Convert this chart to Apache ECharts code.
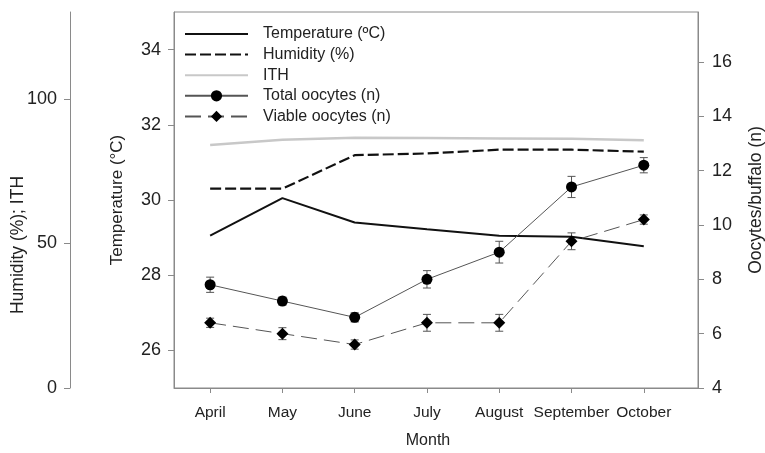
<!DOCTYPE html>
<html><head><meta charset="utf-8">
<script src="https://cdn.jsdelivr.net/npm/echarts@6/dist/echarts.min.js"></script>
<style>html,body{margin:0;padding:0;background:#fff}#c{width:765px;height:453px}</style>
</head><body><div id="c"></div>
<script>
const months = ['April', 'May', 'June', 'July', 'August', 'September', 'October'];
const temperature = [29.05, 30.05, 29.4, 29.22, 29.05, 29.02, 28.77];
const humidity = [68.9, 68.9, 80.5, 81.1, 82.4, 82.4, 81.7];
const ith = [84.0, 85.8, 86.5, 86.4, 86.3, 86.2, 85.7];
const totalOocytes = [7.8, 7.2, 6.6, 8.0, 9.0, 11.4, 12.2];
const totalErr = [0.28, 0.15, 0.17, 0.32, 0.40, 0.39, 0.28];
const viableOocytes = [6.4, 6.0, 5.6, 6.4, 6.4, 9.4, 10.2];
const viableErr = [0.17, 0.22, 0.17, 0.31, 0.31, 0.31, 0.17];
const monthTicks = [0, 1, 2, 3, 4, 5, 6];
const tempTicks = [26, 28, 30, 32, 34];
const humTicks = [0, 50, 100];
const oocyteTicks = [4, 6, 8, 10, 12, 14, 16];

const FONT = 'Liberation Sans, Arial, sans-serif';
const TXT = '#222';
const AX = '#8a8a8a';

const pairs = arr => arr.map((v, i) => [i, v]);
const errPairs = (vals, errs) => vals.map((v, i) => [i, v - errs[i], v + errs[i]]);

function errRender(params, api) {
  const x = api.value(0);
  const lo = api.coord([x, api.value(1)]);
  const hi = api.coord([x, api.value(2)]);
  const w = 4;
  const st = { stroke: '#555', lineWidth: 1 };
  return {
    type: 'group',
    children: [
      { type: 'line', shape: { x1: lo[0], y1: lo[1], x2: hi[0], y2: hi[1] }, style: st },
      { type: 'line', shape: { x1: lo[0] - w, y1: lo[1], x2: lo[0] + w, y2: lo[1] }, style: st },
      { type: 'line', shape: { x1: hi[0] - w, y1: hi[1], x2: hi[0] + w, y2: hi[1] }, style: st }
    ]
  };
}

const noSym = { color: 'rgba(0,0,0,0)', borderWidth: 0, opacity: 0 };

const chart = echarts.init(document.getElementById('c'), null, { renderer: 'canvas' });
chart.setOption({
  animation: false,
  textStyle: { fontFamily: FONT, color: TXT },
  grid: { left: 174, right: 67, top: 12, bottom: 65, outerBoundsMode: 'none', containLabel: false, show: true, borderColor: AX, borderWidth: 1, backgroundColor: 'transparent' },
  legend: {
    orient: 'vertical', left: 184, top: 26, padding: 0, itemWidth: 63, itemHeight: 14, itemGap: 4.6,
    textStyle: { fontFamily: FONT, fontSize: 16, color: TXT, padding: [0, 0, 0, 10] },
    data: [
      { name: 'Temperature (ºC)', itemStyle: noSym },
      { name: 'Humidity (%)', itemStyle: noSym },
      { name: 'ITH', itemStyle: noSym },
      'Total oocytes (n)',
      'Viable oocytes (n)'
    ]
  },
  xAxis: {
    type: 'value', min: -0.5, max: 6.75,
    name: 'Month', nameLocation: 'middle', nameGap: 45, nameMoveOverlap: false,
    nameTextStyle: { fontFamily: FONT, fontSize: 16, color: TXT, padding: [0, 16, 0, 0] },
    axisLine: { show: true, onZero: false, lineStyle: { color: AX } },
    axisTick: { show: true, length: 5, lineStyle: { color: AX }, customValues: monthTicks },
    axisLabel: { fontFamily: FONT, fontSize: 15.5, color: TXT, margin: 17, customValues: monthTicks, formatter: v => months[v] || '' },
    splitLine: { show: false }
  },
  yAxis: [
    {
      type: 'value', position: 'left', min: 25, max: 35,
      name: 'Temperature (°C)', nameLocation: 'middle', nameGap: 48, nameRotate: 90, nameMoveOverlap: false,
      nameTextStyle: { fontFamily: FONT, fontSize: 17, color: TXT },
      axisLine: { show: true, onZero: false, lineStyle: { color: AX } },
      axisTick: { show: true, length: 6, lineStyle: { color: AX }, customValues: tempTicks },
      axisLabel: { fontFamily: FONT, fontSize: 18, color: TXT, margin: 13, customValues: tempTicks },
      splitLine: { show: false }
    },
    {
      type: 'value', position: 'left', offset: 104, min: 0, max: 130,
      name: 'Humidity (%); ITH', nameLocation: 'middle', nameGap: 43, nameRotate: 90, nameMoveOverlap: false,
      nameTextStyle: { fontFamily: FONT, fontSize: 17.5, color: TXT, padding: [0, 90, 0, 0] },
      axisLine: { show: true, onZero: false, lineStyle: { color: AX } },
      axisTick: { show: true, length: 6, lineStyle: { color: AX }, customValues: humTicks },
      axisLabel: { fontFamily: FONT, fontSize: 18, color: TXT, margin: 13, customValues: humTicks },
      splitLine: { show: false }
    },
    {
      type: 'value', position: 'right', min: 4, max: 17.84,
      name: 'Oocytes/buffalo (n)', nameLocation: 'middle', nameGap: 49, nameRotate: 90, nameMoveOverlap: false,
      nameTextStyle: { fontFamily: FONT, fontSize: 17.5, color: TXT },
      axisLine: { show: true, onZero: false, lineStyle: { color: AX } },
      axisTick: { show: true, length: 6, lineStyle: { color: AX }, customValues: oocyteTicks },
      axisLabel: { fontFamily: FONT, fontSize: 18, color: TXT, margin: 14, customValues: oocyteTicks },
      splitLine: { show: false }
    }
  ],
  series: [
    {
      name: 'Temperature (ºC)', type: 'line', yAxisIndex: 0, data: pairs(temperature),
      symbol: 'none', lineStyle: { color: '#111', width: 2 }, itemStyle: { color: '#111' }, z: 3
    },
    {
      name: 'Humidity (%)', type: 'line', yAxisIndex: 1, data: pairs(humidity),
      symbol: 'none', lineStyle: { color: '#111', width: 2.2, type: [11, 4] }, itemStyle: { color: '#111' }, z: 3
    },
    {
      name: 'ITH', type: 'line', yAxisIndex: 1, data: pairs(ith),
      symbol: 'none', lineStyle: { color: '#c8c8c8', width: 2.5 }, itemStyle: { color: '#c8c8c8' }, z: 2
    },
    {
      type: 'custom', yAxisIndex: 2, data: errPairs(totalOocytes, totalErr), renderItem: errRender, z: 4, silent: true
    },
    {
      type: 'custom', yAxisIndex: 2, data: errPairs(viableOocytes, viableErr), renderItem: errRender, z: 4, silent: true
    },
    {
      name: 'Total oocytes (n)', type: 'line', yAxisIndex: 2, data: pairs(totalOocytes),
      symbol: 'circle', symbolSize: 11, showAllSymbol: true,
      lineStyle: { color: '#555', width: 1 }, itemStyle: { color: '#000' }, z: 5
    },
    {
      name: 'Viable oocytes (n)', type: 'line', yAxisIndex: 2, data: pairs(viableOocytes),
      symbol: 'diamond', symbolSize: 12, showAllSymbol: true,
      lineStyle: { color: '#555', width: 1, type: [16, 7] }, itemStyle: { color: '#000' }, z: 5
    }
  ]
});
</script>
</body></html>
